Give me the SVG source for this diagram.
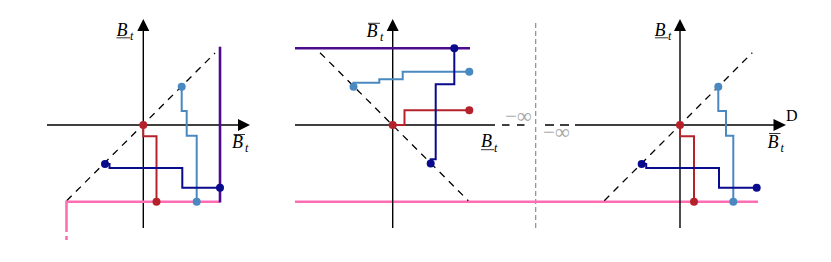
<svg xmlns="http://www.w3.org/2000/svg" width="831" height="262" viewBox="0 0 831 262">
<style>
.ax{stroke:#000;stroke-width:1.4;fill:none}
.ah{fill:#000;stroke:none}
.diag{stroke:#000;stroke-width:1.3;stroke-dasharray:7 6;fill:none}
.ext{stroke:#000;stroke-width:1.4;stroke-dasharray:7.5 7.5;fill:none}
.vsep{stroke:#8c8c8c;stroke-width:1.2;stroke-dasharray:5 3;fill:none}
.red{stroke:#b5222c;stroke-width:2;fill:none}
.lb{stroke:#4a88c0;stroke-width:2;fill:none}
.nv{stroke:#0a0a8c;stroke-width:2;fill:none}
.pu{stroke:#4b0c8c;stroke-width:2.6;fill:none}
.pk{stroke:#ff6eb4;stroke-width:2.6;fill:none}
.dred{fill:#b5222c}
.dlb{fill:#4a88c0}
.dnv{fill:#0a0a8c}
.lbl{font-family:"Liberation Serif",serif;font-style:italic;font-size:18px;fill:#000}
.sub{font-family:"Liberation Serif",serif;font-style:italic;font-size:12px;fill:#000}
.bar{stroke:#000;stroke-width:0.8}
.inf{font-family:"Liberation Serif",serif;font-size:21px;fill:#a8a8a8}
.dl{font-family:"Liberation Serif",serif;font-size:16px;fill:#000}
</style>

<g id="connectors">
  <line class="vsep" x1="535.7" y1="23" x2="535.7" y2="228"/>
  <line class="pk" x1="295" y1="201.7" x2="758" y2="201.7"/>
</g>

<g id="panel1">
  <line class="ax" x1="143.3" y1="228" x2="143.3" y2="30"/>
  <polygon class="ah" points="143.3,19 137.3,31 149.3,31"/>
  <line class="ax" x1="47" y1="125" x2="239" y2="125"/>
  <polygon class="ah" points="250,125 238,119 238,131"/>
  <line class="diag" x1="66.7" y1="200.7" x2="215" y2="53"/>
  <path class="pk" d="M66.5,232 V201.7 H220"/>
  <line class="pk" x1="66.5" y1="236" x2="66.5" y2="240"/>
  <line class="pu" x1="220" y1="46.7" x2="220" y2="202.5"/>
  <path class="red" d="M143.3,125 V136.3 H156.5 V201.7"/>
  <path class="lb" d="M181.7,86.7 V111 H186.7 V135.7 H196.7 V201.7"/>
  <path class="nv" d="M105,164 H109.5 V168 H182.3 V187.7 H220"/>
  <circle class="dred" cx="143.3" cy="125" r="4"/>
  <circle class="dred" cx="156.5" cy="201.7" r="4"/>
  <circle class="dlb" cx="181.7" cy="86.7" r="4"/>
  <circle class="dlb" cx="196.7" cy="201.7" r="4"/>
  <circle class="dnv" cx="105" cy="164" r="4"/>
  <circle class="dnv" cx="220" cy="187.7" r="4"/>
  <text class="lbl" x="116.5" y="35.5">B</text>
  <text class="sub" x="130" y="39.5">t</text>
  <line class="bar" x1="116.5" y1="37.8" x2="130" y2="37.8"/>
  <text class="lbl" x="232" y="148">B</text>
  <text class="sub" x="245" y="152">t</text>
  <line class="bar" x1="233.5" y1="134.5" x2="245" y2="134.5"/>
</g>

<g id="panel2">
  <line class="ax" x1="392.7" y1="228" x2="392.7" y2="30"/>
  <polygon class="ah" points="392.7,19 386.7,31 398.7,31"/>
  <line class="ax" x1="295" y1="125" x2="495" y2="125"/>
  <line class="ext" x1="502" y1="125" x2="525" y2="125"/>
  <line class="diag" x1="320" y1="52.7" x2="468.3" y2="200.7"/>
  <line class="pu" x1="295" y1="48.3" x2="470" y2="48.3"/>
  <path class="lb" d="M353.5,86.7 V82.7 H379.3 V79.3 H402.7 V71.7 H469.3"/>
  <path class="red" d="M392.7,125 H404.5 V110.3 H469.3"/>
  <path class="nv" d="M430.7,163.5 V159.3 H435.7 V84.3 H454.3 V48.3"/>
  <circle class="dlb" cx="353.5" cy="86.7" r="4"/>
  <circle class="dlb" cx="469.3" cy="71.7" r="4"/>
  <circle class="dred" cx="392.7" cy="125" r="4"/>
  <circle class="dred" cx="469.3" cy="110.3" r="4"/>
  <circle class="dnv" cx="430.7" cy="163.5" r="4"/>
  <circle class="dnv" cx="454.3" cy="48.3" r="4"/>
  <text class="lbl" x="366.5" y="37">B</text>
  <text class="sub" x="380" y="41">t</text>
  <line class="bar" x1="368" y1="23.3" x2="380" y2="23.3"/>
  <text class="lbl" x="481" y="147">B</text>
  <text class="sub" x="494" y="152">t</text>
  <line class="bar" x1="481" y1="149.7" x2="494" y2="149.7"/>
  <text class="inf" x="505" y="123">−∞</text>
</g>

<g id="panel3">
  <line class="ax" x1="680" y1="228" x2="680" y2="30"/>
  <polygon class="ah" points="680,19 674,31 686,31"/>
  <line class="ext" x1="545" y1="125" x2="584" y2="125" style="stroke-dasharray:9 6"/>
  <line class="ax" x1="584" y1="125" x2="775" y2="125"/>
  <polygon class="ah" points="786,125 773.5,119 773.5,131"/>
  <line class="diag" x1="604.3" y1="200.7" x2="752.3" y2="52.7"/>
  <path class="red" d="M680,125 V136.3 H694 V201.7"/>
  <path class="lb" d="M718.3,86.7 V111 H726 V135.7 H733.3 V201.7"/>
  <path class="nv" d="M641.7,164 H646.2 V168 H719 V187.7 H756.7"/>
  <circle class="dred" cx="680" cy="125" r="4"/>
  <circle class="dred" cx="694" cy="201.7" r="4"/>
  <circle class="dlb" cx="718.3" cy="86.7" r="4"/>
  <circle class="dlb" cx="733.3" cy="201.7" r="4"/>
  <circle class="dnv" cx="641.7" cy="164" r="4"/>
  <circle class="dnv" cx="756.7" cy="187.7" r="4"/>
  <text class="lbl" x="654.5" y="35.5">B</text>
  <text class="sub" x="668" y="39.5">t</text>
  <line class="bar" x1="655" y1="37.8" x2="668" y2="37.8"/>
  <text class="lbl" x="767.5" y="147.5">B</text>
  <text class="sub" x="780.5" y="151.5">t</text>
  <line class="bar" x1="769" y1="133.5" x2="780.5" y2="133.5"/>
  <text class="dl" x="786" y="120.7">D</text>
  <text class="inf" x="543" y="138.5">−∞</text>
</g>
</svg>
